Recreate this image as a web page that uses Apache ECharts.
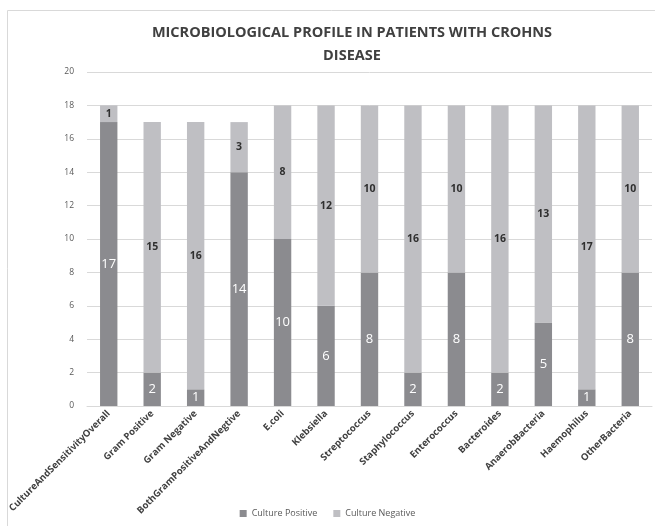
<!DOCTYPE html>
<html>
<head>
<meta charset="utf-8">
<script src="https://cdn.jsdelivr.net/npm/echarts@6/dist/echarts.min.js"></script>
<style>
  html, body { margin: 0; padding: 0; background: #fff; }
  #chart { width: 655px; height: 526px; }
</style>
</head>
<body>
<div id="chart"></div>
<script>
// 数据
const categories = [
    'CultureAndSensitivityOverall', 'Gram Positive', 'Gram Negative',
    'BothGramPositiveAndNegtive', 'E.coli', 'Klebsiella', 'Streptococcus',
    'Staphylococcus', 'Enterococcus', 'Bacteroides', 'AnaerobBacteria',
    'Haemophilus', 'OtherBacteria'
];
const culturePositive = [17, 2, 1, 14, 10, 6, 8, 2, 8, 2, 5, 1, 8];
const cultureNegative = [1, 15, 16, 3, 8, 12, 10, 16, 10, 16, 13, 17, 10];

const chart = echarts.init(document.getElementById('chart'));
chart.setOption({
    animation: false,
    textStyle: { fontFamily: 'Open Sans' },
    title: {
        text: 'MICROBIOLOGICAL PROFILE IN PATIENTS WITH CROHNS\nDISEASE',
        left: 347,
        textAlign: 'center',
        top: 16,
        textStyle: { fontSize: 14.5, fontWeight: 'bold', color: '#404040', lineHeight: 23 }
    },
    graphic: [{
        type: 'rect',
        shape: { x: 7.5, y: 10.5, width: 660, height: 530 },
        style: { fill: 'none', stroke: '#d9d9d9', lineWidth: 1 },
        silent: true
    }],
    legend: {
        bottom: 3,
        left: 'center',
        itemWidth: 7,
        itemHeight: 7,
        itemGap: 16,
        icon: 'rect',
        textStyle: { fontSize: 9, color: '#595959' },
        data: ['Culture Positive', 'Culture Negative']
    },
    grid: { left: 87, right: 3, top: 72, bottom: 120 },
    xAxis: {
        type: 'category',
        data: categories,
        axisTick: { show: false },
        axisLine: { lineStyle: { color: '#d9d9d9' } },
        axisLabel: {
            rotate: 45,
            interval: 0,
            fontSize: 9.5,
            fontWeight: 'bold',
            color: '#404040',
            margin: 6
        }
    },
    yAxis: {
        type: 'value',
        min: 0,
        max: 20,
        interval: 2,
        axisLine: { show: false },
        axisTick: { show: false },
        splitLine: { lineStyle: { color: '#d9d9d9' } },
        axisLabel: { fontSize: 8.5, color: '#595959', margin: 13 }
    },
    series: [
        {
            name: 'Culture Positive',
            type: 'bar',
            stack: 'total',
            barWidth: '40%',
            data: culturePositive,
            itemStyle: { color: '#8b8b8f' },
            label: { show: true, position: 'inside', color: '#ffffff', fontSize: 13 }
        },
        {
            name: 'Culture Negative',
            type: 'bar',
            stack: 'total',
            barWidth: '40%',
            data: cultureNegative,
            itemStyle: { color: '#bfbfc3' },
            label: { show: true, position: 'inside', color: '#303030', fontSize: 10.5, fontWeight: 'bold' }
        }
    ]
});
</script>
</body>
</html>
